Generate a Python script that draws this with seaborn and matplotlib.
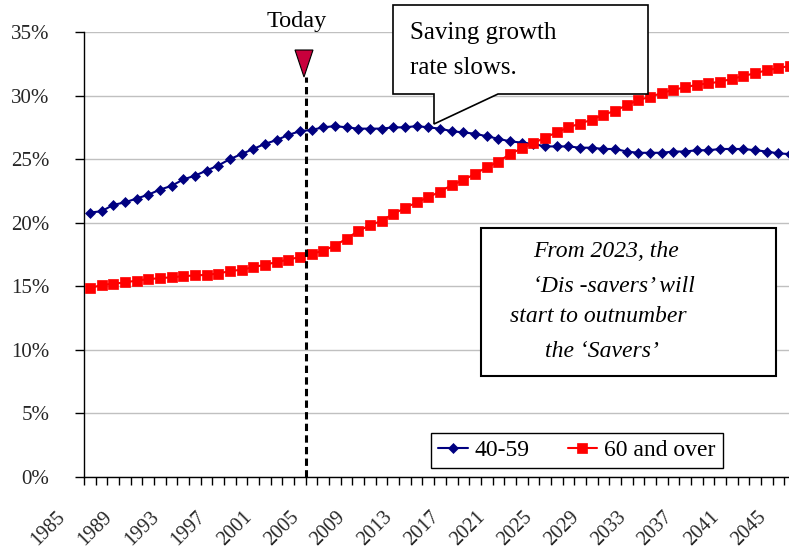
import matplotlib
matplotlib.use("Agg")
import matplotlib.pyplot as plt
import seaborn as sns
from matplotlib.patches import Polygon, Rectangle
from matplotlib.transforms import ScaledTranslation
from matplotlib.ticker import FixedLocator

# ---------------- data ----------------
years = list(range(1985, 2046))
age_40_59 = [20.8, 20.9, 21.4, 21.6, 21.9, 22.2, 22.6, 22.9, 23.4, 23.7,
             24.1, 24.5, 25.0, 25.4, 25.8, 26.2, 26.5, 26.9, 27.2, 27.3,
             27.5, 27.6, 27.5, 27.4, 27.4, 27.4, 27.5, 27.5, 27.6, 27.5,
             27.4, 27.2, 27.1, 27.0, 26.8, 26.6, 26.4, 26.3, 26.2, 26.0,
             26.0, 26.0, 25.9, 25.9, 25.8, 25.8, 25.6, 25.5, 25.5, 25.5,
             25.6, 25.6, 25.7, 25.7, 25.8, 25.8, 25.8, 25.7, 25.6, 25.45,
             25.4]
age_60_over = [14.85, 15.1, 15.2, 15.3, 15.45, 15.55, 15.65, 15.7, 15.8, 15.85,
               15.9, 16.0, 16.2, 16.3, 16.5, 16.7, 16.9, 17.1, 17.3, 17.55,
               17.8, 18.2, 18.75, 19.35, 19.8, 20.15, 20.7, 21.15, 21.6, 22.0,
               22.45, 22.95, 23.35, 23.85, 24.35, 24.8, 25.4, 25.85, 26.25, 26.7,
               27.1, 27.5, 27.8, 28.1, 28.5, 28.8, 29.25, 29.65, 29.9, 30.2,
               30.45, 30.65, 30.85, 30.95, 31.1, 31.3, 31.55, 31.75, 32.0, 32.15,
               32.35]
series_labels = ["40-59", "60 and over"]
ytick_values = [0, 5, 10, 15, 20, 25, 30, 35]
ytick_labels = ["0%", "5%", "10%", "15%", "20%", "25%", "30%", "35%"]
xtick_years = years[::4]
today_year = 2003.5

# ---------------- style ----------------
sns.set_style("white")
plt.rcParams["font.family"] = ["Liberation Serif", "DejaVu Serif"]
plt.rcParams["text.color"] = "black"

W, H = 789, 554
fig = plt.figure(figsize=(W / 100, H / 100), dpi=100)
fig.patch.set_facecolor("white")


def fx(px):
    return px / W


def fy(py):
    return 1 - py / H


ax = fig.add_axes([fx(84), fy(477), (796 - 84) / W, (477 - 32) / H])

sns.lineplot(x=years, y=age_40_59, ax=ax, color="#000080", marker="D",
             markersize=5.3, markeredgecolor="#000080", markeredgewidth=0.5,
             linewidth=1.5, label=series_labels[0], zorder=3)
sns.lineplot(x=years, y=age_60_over, ax=ax, color="#FF0000", marker="s",
             markersize=6.8, markeredgecolor="#FF0000", markeredgewidth=0.5,
             linewidth=1.5, label=series_labels[1], zorder=3)

ax.set_xlim(years[0] - 0.5, years[-1] + 0.5)
ax.set_ylim(0, 35)
ax.set_xlabel("")
ax.set_ylabel("")

# grid
ax.yaxis.grid(True, color="#c0c0c0", linewidth=1.0)
ax.xaxis.grid(False)
ax.set_axisbelow(True)

for s in ["top", "right"]:
    ax.spines[s].set_visible(False)
for s in ["left", "bottom"]:
    ax.spines[s].set_color("black")
    ax.spines[s].set_linewidth(1.0)

# y ticks
ax.set_yticks(ytick_values)
ax.set_yticklabels(ytick_labels)
ax.tick_params(axis="y", which="major", length=6.5, width=1, direction="out",
               color="black", pad=18.5, labelsize=15, left=True)

# x ticks
ax.set_xticks(xtick_years)
ax.set_xticklabels([str(y) for y in xtick_years], rotation=45, ha="right",
                   va="baseline", rotation_mode="anchor", fontsize=14.5)
ax.xaxis.set_minor_locator(FixedLocator([y - 0.5 for y in years] + [years[-1] + 0.5]))
ax.tick_params(axis="x", which="major", length=0, pad=29, bottom=True)
ax.tick_params(axis="x", which="minor", length=5.8, width=1, direction="out",
               color="black", bottom=True)
shift = ScaledTranslation(-24 / 100, 0, fig.dpi_scale_trans)
for lbl in ax.get_xticklabels():
    lbl.set_transform(lbl.get_transform() + shift)

# Today marker line
ax.plot([today_year, today_year], [0, 31.5], color="black", linewidth=2.2,
        linestyle=(0, (2.4, 1.4)), zorder=5, clip_on=False)
fig.add_artist(Polygon([(fx(295), fy(50)), (fx(313), fy(50)), (fx(304), fy(77))],
                       closed=True, facecolor="#C8003C", edgecolor="black",
                       linewidth=0.8, transform=fig.transFigure, zorder=6))
fig.text(fx(297), fy(22), "Today", ha="center", va="center", fontsize=17.5)

# legend
handles, labels = ax.get_legend_handles_labels()
leg = ax.legend(handles, labels, loc="center",
                bbox_to_anchor=(fx(577), fy(450.5)), bbox_transform=fig.transFigure,
                ncol=2, frameon=True, fancybox=False, edgecolor="black",
                framealpha=1, facecolor="white", prop={"size": 17},
                handlelength=1.25, handletextpad=0.3, columnspacing=1.6,
                borderpad=0.3, borderaxespad=0)
leg.get_frame().set_linewidth(1.0)

# callout "Saving growth rate slows."
callout = [(393, 5), (648, 5), (648, 94), (498, 94), (434, 124), (434, 94), (393, 94)]
fig.add_artist(Polygon([(fx(x), fy(y)) for x, y in callout], closed=True,
                       facecolor="white", edgecolor="black", linewidth=1.2,
                       transform=fig.transFigure, zorder=6))
fig.text(fx(410), fy(33), "Saving growth", ha="left", va="center", fontsize=18, zorder=7)
fig.text(fx(410), fy(68), "rate slows.", ha="left", va="center", fontsize=18, zorder=7)

# info box
fig.add_artist(Rectangle((fx(481), fy(376)), (776 - 481) / W, (376 - 228) / H,
                         facecolor="white", edgecolor="black", linewidth=1.5,
                         transform=fig.transFigure, zorder=6))
box_lines = [("From 2023, the", 606, 256.7),
             ("\u2018Dis -savers\u2019 will", 614, 291.7),
             ("start to outnumber", 598.5, 321.7),
             ("the \u2018Savers\u2019", 601.5, 356.7)]
for txt, cx, by in box_lines:
    fig.text(fx(cx), fy(by), txt, ha="center", va="baseline", fontsize=17,
             style="italic", zorder=7)

fig.savefig("out.png", dpi=100, facecolor="white")
